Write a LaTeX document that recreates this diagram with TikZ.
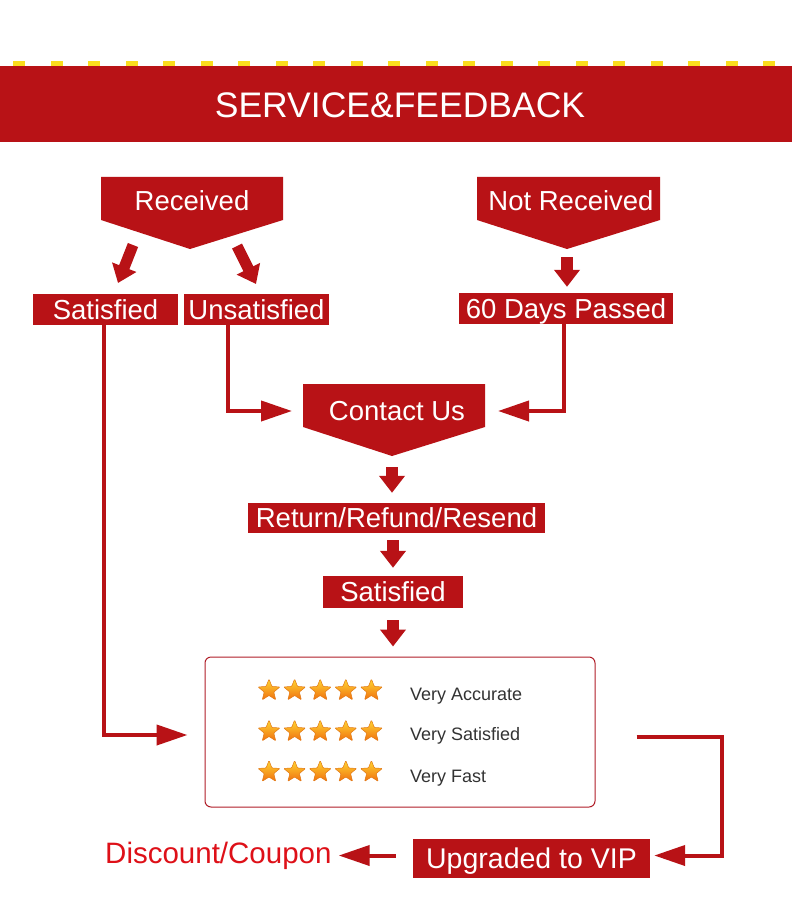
\documentclass[tikz,border=0pt]{standalone}
\usepackage{fontspec}
\setmainfont{Liberation Sans}
\usetikzlibrary{arrows.meta,calc}
\definecolor{myred}{RGB}{184,18,22}
\definecolor{discred}{RGB}{222,16,24}
\definecolor{dashyel}{RGB}{250,222,30}
\definecolor{rateedge}{RGB}{176,30,40}
\definecolor{graytxt}{RGB}{51,51,51}
\definecolor{starY}{RGB}{255,214,50}
\definecolor{starO}{RGB}{240,112,16}
\definecolor{starE}{RGB}{226,120,20}
\tikzset{
  boxtxt/.style={fill=myred, text=white, inner sep=0pt,
    font=\fontsize{27.5pt}{30pt}\selectfont, text height=19.7pt, text depth=0pt},
  penttxt/.style={text=white, inner sep=0pt,
    font=\fontsize{27.5pt}{30pt}\selectfont, text height=19.7pt, text depth=0pt},
  pentshape/.style={fill=myred},
  fatarrow/.style={draw=myred, line width=12pt, -{Triangle[length=17pt,width=25pt]}},
  larrow/.style={draw=myred, line width=4pt, -{Triangle[length=31pt,width=20pt]}},
  ratetxt/.style={text=graytxt, inner sep=0pt, anchor=base west,
    font=\fontsize{18pt}{20pt}\selectfont},
  ratestar/.pic={\shade[top color=starY, bottom color=starO, draw=starE,
      line width=0.5pt, rounded corners=0.8pt]
      (90:11.5pt) -- (126:5pt) -- (162:11.5pt) -- (198:5pt) -- (234:11.5pt)
      -- (270:5pt) -- (306:11.5pt) -- (342:5pt) -- (18:11.5pt) -- (54:5pt) -- cycle;}
}
\begin{document}
\begin{tikzpicture}[x=1pt,y=-1pt]
\useasboundingbox (0,0) rectangle (792,904);
\fill[white] (0,0) rectangle (792,904);

% header
\foreach \i in {0,...,20} \fill[dashyel] (13+37.5*\i,61) rectangle ++(12,5.5);
\fill[myred] (0,66.5) rectangle (792,142);
\node[text=white, inner sep=0pt, font=\fontsize{35.5pt}{38pt}\selectfont,
  text height=25.4pt, text depth=0pt] (title) at (400,105) {SERVICE\&FEEDBACK};

% pentagons
\fill[pentshape] (101,177) -- (283,177) -- (283,220) -- (190,249) -- (101,220) -- cycle;
\node[penttxt] (rec) at (192,201) {Received};
\coordinate (recp) at (190,249);

\fill[pentshape] (477,177) -- (660,177) -- (660,220) -- (567,249) -- (477,220) -- cycle;
\node[penttxt] (nrec) at (571,201) {Not Received};
\coordinate (nrp) at (567,249);

\fill[pentshape] (303,384) -- (485,384) -- (485,427) -- (392,456) -- (303,427) -- cycle;
\node[penttxt] (cu) at (397,411) {Contact Us};
\coordinate (cup) at (392,456);
\coordinate (cuL) at (303,411);
\coordinate (cuR) at (485,411);

% boxes
\node[boxtxt, minimum width=145pt, minimum height=31pt] (sat1) at (105.5,309.5) {Satisfied};
\node[boxtxt, minimum width=145pt, minimum height=31pt] (unsat) at (256.5,309.5) {Unsatisfied};
\node[boxtxt, minimum width=214pt, minimum height=31pt] (days) at (566,308.5) {60 Days Passed};
\node[boxtxt, minimum width=297pt, minimum height=30pt] (ret) at (396.5,518) {Return/Refund/Resend};
\node[boxtxt, minimum width=140pt, minimum height=32pt] (sat2) at (393,592) {Satisfied};
\node[boxtxt, minimum width=237pt, minimum height=39pt,
  font=\fontsize{28.5pt}{31pt}\selectfont, text height=20.4pt] (vip) at (531.5,858.5) {Upgraded to VIP};
\node[text=discred, inner sep=0pt, anchor=west, font=\fontsize{29.5pt}{32pt}\selectfont,
  text height=21.1pt, text depth=0pt] (disc) at (105,853) {Discount/Coupon};

% rating box
\node[draw=rateedge, line width=1pt, rounded corners=6pt, minimum width=390pt,
  minimum height=150pt, inner sep=0pt] (rate) at (400,732) {};
\foreach \yy [count=\r] in {690.5,731.5,772}
  \foreach \i in {0,...,4}
    \pic at (269+25.6*\i,\yy) {ratestar};
\node[ratetxt] (r1) at (410,700) {Very Accurate};
\node[ratetxt] (r2) at (410,740.5) {Very Satisfied};
\node[ratetxt] (r3) at (410,782) {Very Fast};

% fat arrows
\coordinate (ra1) at (133,245);
\coordinate (ra1e) at (118,283);
\coordinate (ra2) at (237,246);
\coordinate (ra2e) at (256,284);
\draw[fatarrow, line width=11pt] (ra1) -- (ra1e);
\draw[fatarrow, line width=11pt] (ra2) -- (ra2e);
\draw[fatarrow, shorten <=8pt, shorten >=6pt] (nrp) -- (nrp |- days.north);
\draw[fatarrow, shorten <=11pt, shorten >=10pt] (cup) -- (cup |- ret.north);
\draw[fatarrow, shorten <=7pt, shorten >=8pt] (ret.south -| sat2.north) -- (sat2.north);
\draw[fatarrow, shorten <=12pt, shorten >=10pt] (sat2.south) -- (sat2.south |- rate.north);

% L connectors
\draw[larrow, shorten >=11pt] ([xshift=-28.5pt]unsat.south) |- (cuL);
\draw[larrow, shorten >=13pt] ([xshift=-2pt]days.south) |- (cuR);
\draw[larrow, shorten >=17pt] ([xshift=-1.5pt]sat1.south) |- ([yshift=-3pt]rate.west);
\draw[larrow, shorten >=4pt] ([xshift=41pt,yshift=-5pt]rate.east) -- ++(85,0) |- ([yshift=3pt]vip.east);
\draw[larrow, shorten <=17pt, shorten >=7pt] ([yshift=3pt]vip.west) -- ([yshift=3pt]vip.west -| disc.east);
\end{tikzpicture}
\end{document}
